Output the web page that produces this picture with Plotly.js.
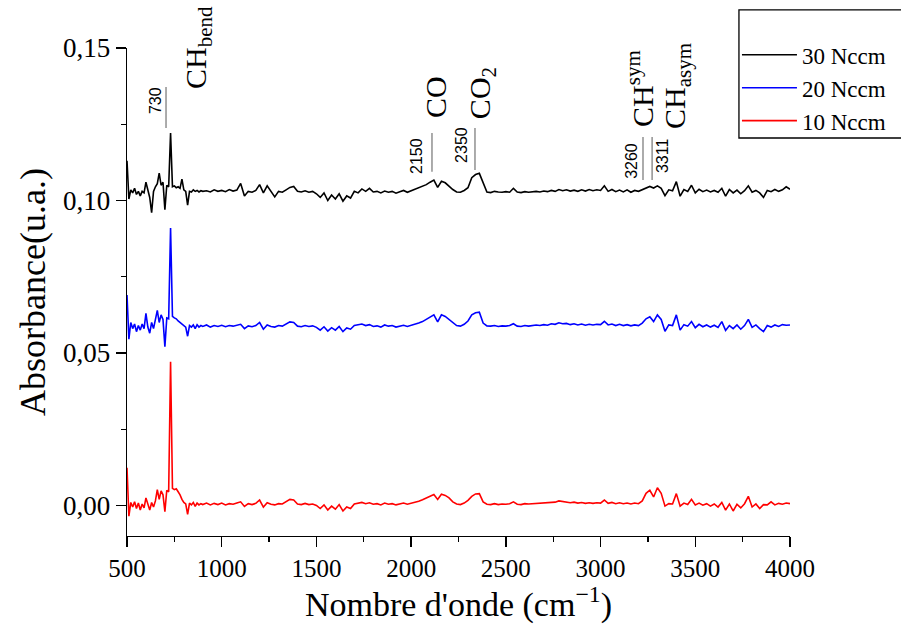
<!DOCTYPE html>
<html>
<head>
<meta charset="utf-8">
<script src="https://cdn.plot.ly/plotly-3.0.1.min.js"></script>
<style>
html,body{margin:0;padding:0;background:#fff;}
#chart{width:901px;height:624px;}
</style>
</head>
<body>
<div id="chart"></div>
<script>
// Wavenumber (cm-1)
var wavenumber = [
500,510,520,530,540,550,560,570,580,590,
600,610,620,630,640,650,660,670,680,690,
700,710,720,730,740,750,760,770,780,790,
800,810,820,830,840,850,860,870,880,890,
900,
920,940,960,980,1000,1020,1040,1060,1080,1100,
1120,1140,1160,1180,1200,1220,1240,1260,1280,1300,
1320,1340,1360,1380,1400,1420,1440,1460,1480,1500,
1520,1540,1560,1580,1600,1620,1640,1660,1680,1700,
1720,1740,1760,1780,1800,1820,1840,1860,1880,1900,
1920,1940,1960,1980,2000,2020,2040,2060,2080,2100,
2120,2140,2160,2180,2200,2220,2240,2260,2280,2300,
2320,2340,2360,2380,2400,2420,2440,2460,2480,2500,
2520,2540,2560,2580,2600,2620,2640,2660,2680,2700,
2720,2740,2760,2780,2800,2820,2840,2860,2880,2900,
2920,2940,2960,2980,3000,3020,3040,3060,3080,3100,
3120,3140,3160,3180,3200,3220,3240,3260,3280,3300,
3320,3340,3360,3380,3400,3420,3440,3460,3480,3500,
3520,3540,3560,3580,3600,3620,3640,3660,3680,3700,
3720,3740,3760,3780,3800,3820,3840,3860,3880,3900,
3920,3940,3960,3980,4000];

// Absorbance, 30 Nccm
var abs30 = [
0.1130,0.1005,0.1035,0.1025,0.1040,0.1020,0.1030,0.1015,0.1030,0.1025,
0.1060,0.1030,0.1010,0.0960,0.1030,0.1045,0.1055,0.1090,0.1050,0.1060,
0.0970,0.1050,0.1045,0.1221,0.1045,0.1048,0.1042,0.1045,0.1040,0.1070,
0.1035,0.1030,0.0985,0.1030,0.1028,0.1035,0.1030,0.1033,0.1028,0.1032,
0.1030,
0.1032,0.1028,0.1035,0.1030,0.1033,0.1029,0.1036,0.1031,0.1034,0.1056,
0.1015,0.1030,0.1027,0.1033,0.1052,0.1025,0.1048,0.1028,0.1012,0.1030,
0.1027,0.1035,0.1043,0.1046,0.1030,0.1028,0.1032,0.1027,0.1030,0.1022,
0.1010,0.1025,0.1000,0.1018,0.1005,0.1022,0.0998,0.1015,0.1008,0.1030,
0.1025,0.1038,0.1030,0.1040,0.1028,0.1030,0.1025,0.1031,0.1027,0.1030,
0.1024,0.1029,0.1033,0.1027,0.1032,0.1035,0.1040,0.1046,0.1052,0.1060,
0.1067,0.1043,0.1063,0.1058,0.1046,0.1036,0.1028,0.1027,0.1033,0.1042,
0.1075,0.1085,0.1089,0.1055,0.1028,0.1026,0.1030,0.1028,0.1027,0.1029,
0.1027,0.1040,0.1028,0.1026,0.1029,0.1027,0.1028,0.1030,0.1028,0.1031,
0.1029,0.1033,0.1030,0.1036,0.1032,0.1035,0.1031,0.1034,0.1030,0.1035,
0.1031,0.1036,0.1032,0.1035,0.1033,0.1048,0.1030,0.1036,0.1029,0.1034,
0.1028,0.1035,0.1027,0.1033,0.1030,0.1036,0.1042,0.1046,0.1041,0.1048,
0.1040,0.1016,0.1035,0.1032,0.1062,0.1014,0.1036,0.1030,0.1050,0.1025,
0.1037,0.1029,0.1034,0.1028,0.1033,0.1027,0.1040,0.1014,0.1036,0.1025,
0.1034,0.1022,0.1032,0.1048,0.1027,0.1033,0.1025,0.1010,0.1033,0.1029,
0.1036,0.1030,0.1035,0.1045,0.1037];

// Absorbance, 20 Nccm
var abs20 = [
0.0690,0.0545,0.0600,0.0580,0.0595,0.0570,0.0590,0.0575,0.0595,0.0580,
0.0630,0.0585,0.0565,0.0600,0.0580,0.0605,0.0640,0.0600,0.0625,0.0610,
0.0521,0.0615,0.0612,0.0910,0.0620,0.0615,0.0612,0.0605,0.0600,0.0595,
0.0590,0.0585,0.0555,0.0590,0.0585,0.0592,0.0580,0.0593,0.0585,0.0590,
0.0587,
0.0592,0.0585,0.0590,0.0587,0.0591,0.0586,0.0590,0.0588,0.0592,0.0594,
0.0580,0.0589,0.0586,0.0590,0.0600,0.0578,0.0592,0.0587,0.0585,0.0590,
0.0588,0.0595,0.0602,0.0600,0.0588,0.0586,0.0590,0.0587,0.0589,0.0584,
0.0575,0.0586,0.0572,0.0583,0.0575,0.0587,0.0570,0.0582,0.0578,0.0590,
0.0592,0.0595,0.0590,0.0593,0.0587,0.0589,0.0585,0.0592,0.0588,0.0590,
0.0585,0.0589,0.0591,0.0587,0.0590,0.0594,0.0598,0.0603,0.0610,0.0618,
0.0625,0.0602,0.0625,0.0620,0.0610,0.0598,0.0590,0.0588,0.0594,0.0605,
0.0625,0.0632,0.0634,0.0598,0.0589,0.0588,0.0590,0.0587,0.0589,0.0588,
0.0590,0.0596,0.0588,0.0587,0.0590,0.0588,0.0589,0.0592,0.0590,0.0593,
0.0591,0.0596,0.0594,0.0599,0.0596,0.0597,0.0593,0.0596,0.0592,0.0595,
0.0591,0.0594,0.0592,0.0594,0.0593,0.0604,0.0592,0.0595,0.0590,0.0594,
0.0590,0.0593,0.0589,0.0592,0.0590,0.0598,0.0612,0.0619,0.0603,0.0625,
0.0610,0.0571,0.0592,0.0590,0.0625,0.0575,0.0593,0.0588,0.0603,0.0583,
0.0594,0.0586,0.0592,0.0585,0.0591,0.0584,0.0603,0.0574,0.0590,0.0580,
0.0592,0.0578,0.0590,0.0610,0.0584,0.0592,0.0580,0.0570,0.0590,0.0585,
0.0592,0.0587,0.0593,0.0591,0.0592];

// Absorbance, 10 Nccm
var abs10 = [
0.0124,-0.0035,0.0010,-0.0005,0.0012,-0.0010,0.0008,-0.0015,0.0005,-0.0008,
0.0025,0.0000,-0.0015,0.0010,-0.0005,0.0015,0.0052,0.0020,0.0048,0.0035,
-0.0020,0.0050,0.0045,0.0471,0.0056,0.0052,0.0055,0.0045,0.0035,0.0020,
0.0010,0.0005,-0.0029,0.0008,0.0002,0.0010,-0.0003,0.0008,0.0002,0.0006,
0.0003,
0.0008,0.0002,0.0007,0.0003,0.0008,0.0002,0.0006,0.0004,0.0008,0.0012,
-0.0003,0.0006,0.0003,0.0007,0.0018,-0.0005,0.0009,0.0004,0.0002,0.0006,
0.0005,0.0012,0.0020,0.0018,0.0005,0.0003,0.0007,0.0003,0.0005,0.0000,
-0.0010,0.0002,-0.0015,-0.0002,-0.0012,0.0003,-0.0018,-0.0005,-0.0010,0.0005,
0.0008,0.0010,0.0006,0.0009,0.0004,0.0006,0.0002,0.0008,0.0004,0.0006,
0.0002,0.0005,0.0008,0.0004,0.0007,0.0010,0.0014,0.0019,0.0025,0.0031,
0.0036,0.0020,0.0037,0.0033,0.0025,0.0012,0.0005,0.0003,0.0008,0.0017,
0.0030,0.0038,0.0039,0.0012,0.0004,0.0003,0.0006,0.0003,0.0005,0.0004,
0.0006,0.0012,0.0004,0.0003,0.0006,0.0005,0.0006,0.0008,0.0007,0.0010,
0.0009,0.0012,0.0011,0.0015,0.0013,0.0012,0.0009,0.0011,0.0008,0.0010,
0.0007,0.0009,0.0007,0.0009,0.0008,0.0018,0.0007,0.0010,0.0006,0.0009,
0.0006,0.0008,0.0005,0.0008,0.0006,0.0015,0.0040,0.0050,0.0028,0.0058,
0.0040,-0.0002,0.0006,0.0005,0.0039,-0.0002,0.0008,0.0003,0.0020,0.0002,
0.0008,0.0001,0.0006,-0.0002,0.0005,-0.0005,0.0010,-0.0015,0.0005,-0.0018,
0.0004,-0.0008,0.0006,0.0030,-0.0005,0.0005,-0.0010,0.0003,0.0002,0.0012,
0.0002,0.0007,0.0004,0.0008,0.0006];

var seriesNames = ['30 Nccm', '20 Nccm', '10 Nccm'];
var seriesColors = ['#000000', '#0000ff', '#ff0000'];
var yTickVals = [0, 0.05, 0.10, 0.15];
var yTickText = ['0,00', '0,05', '0,10', '0,15'];
var xTickVals = [500, 1000, 1500, 2000, 2500, 3000, 3500, 4000];

var serif = 'Liberation Serif, Times New Roman, serif';
var sans = 'Liberation Sans, Arial, sans-serif';

var ys = [abs30, abs20, abs10];
var traces = ys.map(function (y, i) {
  return {
    x: wavenumber, y: y, type: 'scatter', mode: 'lines',
    name: seriesNames[i],
    line: {color: seriesColors[i], width: 1.6}
  };
});

function vline(x, y0, y1) {
  return {type: 'line', xref: 'x', yref: 'y', x0: x, x1: x, y0: y0, y1: y1,
          line: {color: '#7f7f7f', width: 1.3}};
}
function lab(x, y, text, size, fam) {
  return {x: x, y: y, xref: 'x', yref: 'y', text: text, showarrow: false,
          textangle: -90, xanchor: 'center', yanchor: 'middle',
          font: {family: fam, size: size, color: '#000'}};
}

var layout = {
  width: 901, height: 624,
  margin: {l: 127, r: 111, t: 48, b: 88, autoexpand: false},
  paper_bgcolor: '#fff', plot_bgcolor: '#fff',
  showlegend: true,
  legend: {
    x: 0.920, xanchor: 'left', y: 1.03, yanchor: 'top',
    bgcolor: 'rgba(0,0,0,0)', borderwidth: 0,
    font: {family: serif, size: 23, color: '#000'},
    itemwidth: 55, tracegroupgap: 0
  },
  xaxis: {
    range: [500, 4000], tickmode: 'array', tickvals: xTickVals,
    ticks: 'outside', ticklen: 10, tickwidth: 1.3, tickcolor: '#000',
    minor: {dtick: 250, ticks: 'outside', ticklen: 5, tickwidth: 1.3, tickcolor: '#000'},
    showline: true, linecolor: '#000', linewidth: 1.3, mirror: false,
    showgrid: false, zeroline: false, automargin: false,
    tickfont: {family: serif, size: 25, color: '#000'},
    title: {text: "Nombre d'onde (cm<sup>−1</sup>)", font: {family: serif, size: 34, color: '#000'}, standoff: 16}
  },
  yaxis: {
    range: [-0.01, 0.15], tickmode: 'array', tickvals: yTickVals, ticktext: yTickText,
    ticks: 'outside', ticklen: 10, tickwidth: 1.3, tickcolor: '#000',
    minor: {tickvals: [0.025, 0.075, 0.125], ticks: 'outside', ticklen: 5, tickwidth: 1.3, tickcolor: '#000'},
    showline: true, linecolor: '#000', linewidth: 1.3, mirror: false,
    showgrid: false, zeroline: false, automargin: false,
    tickfont: {family: serif, size: 27, color: '#000'},
    title: {text: 'Absorbance(u.a.)', font: {family: serif, size: 36, color: '#000'}, standoff: 6}
  },
  shapes: [
    {type: 'rect', xref: 'paper', yref: 'paper', x0: 0.923, x1: 1.2, y0: 0.8156, y1: 1.078,
     line: {color: '#000', width: 1.3}, fillcolor: 'rgba(0,0,0,0)'},
    vline(706, 0.1238, 0.1372),
    vline(2110, 0.1094, 0.1221),
    vline(2337, 0.1100, 0.1238),
    vline(3224, 0.1067, 0.1208),
    vline(3272, 0.1067, 0.1208)
  ],
  annotations: [
    lab(648, 0.1326, '730', 16, sans),
    lab(875, 0.1500, 'CH<sub>bend</sub>', 30, serif),
    lab(2031, 0.1146, '2150', 16, sans),
    lab(2126, 0.1339, 'CO', 30, serif),
    lab(2268, 0.1182, '2350', 16, sans),
    lab(2374, 0.1352, 'CO<sub>2</sub>', 30, serif),
    lab(3166, 0.1130, '3260', 16, sans),
    lab(3330, 0.1146, '3311', 16, sans),
    lab(3208, 0.1369, 'CH<sup>sym</sup>', 30, serif),
    lab(3403, 0.1375, 'CH<sub>asym</sub>', 30, serif)
  ]
};

Plotly.newPlot('chart', traces, layout, {displayModeBar: false, staticPlot: true});
</script>
</body>
</html>
